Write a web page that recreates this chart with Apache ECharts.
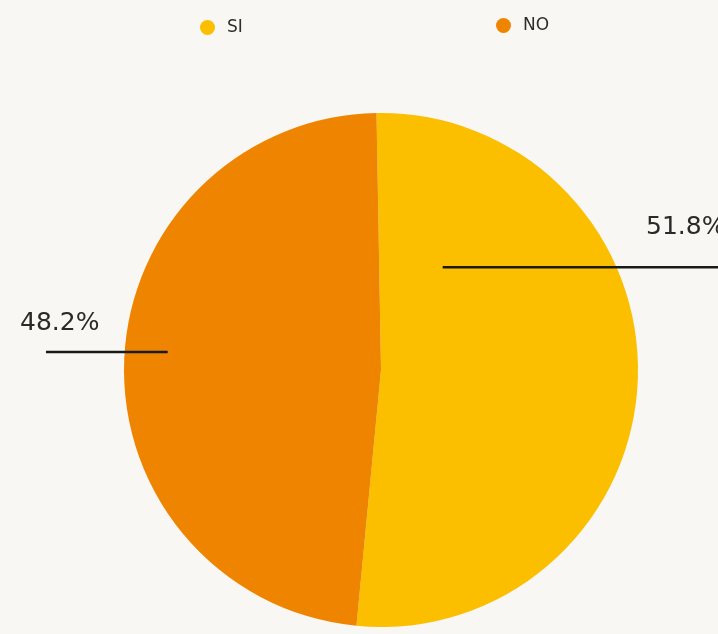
<!DOCTYPE html>
<html>
<head>
<meta charset="utf-8">
<script src="https://cdn.jsdelivr.net/npm/echarts@6/dist/echarts.min.js"></script>
<style>
html,body{margin:0;padding:0;background:#f8f7f3;}
#main{width:718px;height:634px;}
</style>
</head>
<body>
<div id="main"></div>
<script>
// categorie
var categorie = ['SI', 'NO'];
// percentuali
var valori = [51.8, 48.2];
// colori
var colori = ['#fbbf00', '#ef8400'];

var cx = 381, cy = 370, raggio = 257;
// punto di partenza della linea, in raggi dal centro (dx, dy)
var ancore = [[0.24, -0.40], [-0.83, -0.07]];

var datiPie = categorie.map(function (c, i) {
    return {name: c, value: valori[i], itemStyle: {color: colori[i]}};
});

var stileLegenda = {fontFamily: 'DejaVu Sans', fontSize: 17, fontWeight: 500, color: '#2e2e2e', padding: [0, 0, 0, 7]};

var myChart = echarts.init(document.getElementById('main'));
myChart.setOption({
    backgroundColor: '#f8f7f3',
    legend: [
        {data: [categorie[0]], left: 195, top: 14, icon: 'circle', itemWidth: 15, itemHeight: 15, textStyle: stileLegenda},
        {data: [categorie[1]], left: 491, top: 12, icon: 'circle', itemWidth: 15, itemHeight: 15, textStyle: stileLegenda}
    ],
    series: [{
        // fette
        type: 'pie',
        center: [cx, cy],
        radius: [0, raggio],
        startAngle: 91,
        silent: true,
        label: {show: false},
        labelLine: {show: false},
        data: datiPie
    }, {
        // etichette sopra le fette
        type: 'pie',
        z: 5,
        center: [cx, cy],
        radius: [0, raggio],
        startAngle: 91,
        silent: true,
        legendHoverLink: false,
        itemStyle: {color: 'rgba(0,0,0,0)', opacity: 0},
        data: categorie.map(function (c, i) { return {name: c, value: valori[i]}; }),
        label: {
            show: true,
            opacity: 1,
            overflow: 'none',
            formatter: function (p) { return p.value.toFixed(1) + '%'; },
            fontFamily: 'DejaVu Sans',
            fontSize: 25,
            color: '#2a2a2a'
        },
        labelLine: {show: true, lineStyle: {color: '#1a1a1a', width: 2.5, opacity: 1}},
        labelLayout: function (params) {
            var i = params.dataIndex;
            var x0 = cx + ancore[i][0] * raggio;
            var y0 = cy + ancore[i][1] * raggio;
            if (i === 0) {
                return {
                    x: 646, y: y0 - 40, align: 'left', verticalAlign: 'middle',
                    labelLinePoints: [[x0, y0], [718, y0], [718, y0]]
                };
            }
            return {
                x: 20, y: y0 - 29, align: 'left', verticalAlign: 'middle',
                labelLinePoints: [[x0, y0], [46, y0], [46, y0]]
            };
        }
    }]
});
</script>
</body>
</html>
